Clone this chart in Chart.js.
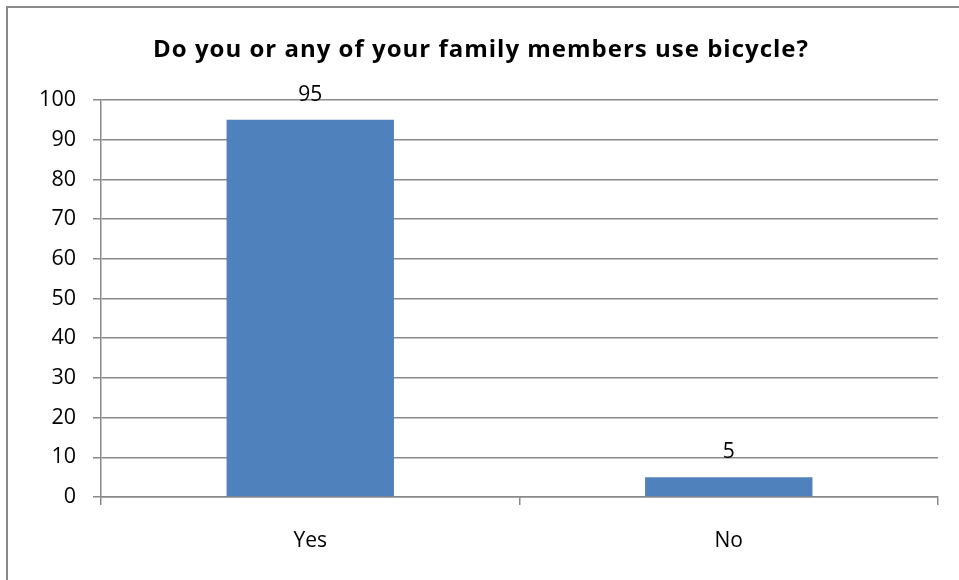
<!DOCTYPE html>
<html>
<head>
<meta charset="utf-8">
<script src="https://cdn.jsdelivr.net/npm/chart.js@4"></script>
<style>
  html, body { margin: 0; padding: 0; background: #fff; }
  #wrap { position: relative; width: 959px; height: 580px; }
  #frame { position: absolute; left: 6px; top: 6px; right: -10px; bottom: -10px;
           border: 2px solid #898989; pointer-events: none; }
  canvas { position: absolute; left: 0; top: 0; }
</style>
</head>
<body>
<div id="wrap">
  <canvas id="chart" width="959" height="580"></canvas>
  <div id="frame"></div>
</div>
<script>
// chart data
var title = "Do you or any of your family members use bicycle?";
var categories = ["Yes", "No"];
var values = [95, 5];
var yMax = 100;
var yStep = 10;

var fontFamily = "'Open Sans', Lato, sans-serif";
var lineColor = "#898989";

// title + value labels drawn on top of the bars
var labelsPlugin = {
  id: "labelsPlugin",
  afterDraw: function (chart) {
    var ctx = chart.ctx;
    ctx.save();
    ctx.fillStyle = "#000";
    ctx.textAlign = "center";
    ctx.textBaseline = "alphabetic";
    ctx.font = "bold 24px " + fontFamily;
    ctx.letterSpacing = "1px";
    ctx.fillText(title, 481, 57);
    ctx.letterSpacing = "0px";

    ctx.font = "21px " + fontFamily;
    var meta = chart.getDatasetMeta(0);
    meta.data.forEach(function (bar, i) {
      ctx.fillText(String(values[i]), bar.x, bar.y - 19);
    });
    ctx.restore();
  },
};

const ctx = document.getElementById("chart").getContext("2d");
const chart = new Chart(ctx, {
  type: "bar",
  data: {
    labels: categories,
    datasets: [
      {
        data: values,
        backgroundColor: "#4F81BD",
        borderWidth: 0,
        categoryPercentage: 1.0,
        barPercentage: 0.4,
      },
    ],
  },
  options: {
    responsive: false,
    animation: false,
    layout: { padding: { top: 100, right: 21, bottom: 0, left: 0 } },
    plugins: {
      legend: { display: false },
      title: { display: false },
      tooltip: { enabled: false },
    },
    scales: {
      x: {
        grid: {
          offset: true,
          drawOnChartArea: false,
          drawTicks: true,
          tickLength: 8,
          color: lineColor,
          lineWidth: 1.5,
        },
        border: { color: lineColor, width: 1.5 },
        ticks: {
          color: "#000",
          padding: 23,
          font: { family: fontFamily, size: 21 },
        },
        afterFit: function (scale) {
          scale.height = 83;
        },
      },
      y: {
        min: 0,
        max: yMax,
        ticks: {
          stepSize: yStep,
          color: "#000",
          padding: 17,
          font: { family: fontFamily, size: 21.5 },
        },
        grid: {
          color: lineColor,
          lineWidth: 1.5,
          tickLength: 8,
        },
        border: { color: lineColor, width: 1.5 },
        afterFit: function (scale) {
          scale.width = 101;
        },
      },
    },
  },
  plugins: [labelsPlugin],
});
</script>
</body>
</html>
